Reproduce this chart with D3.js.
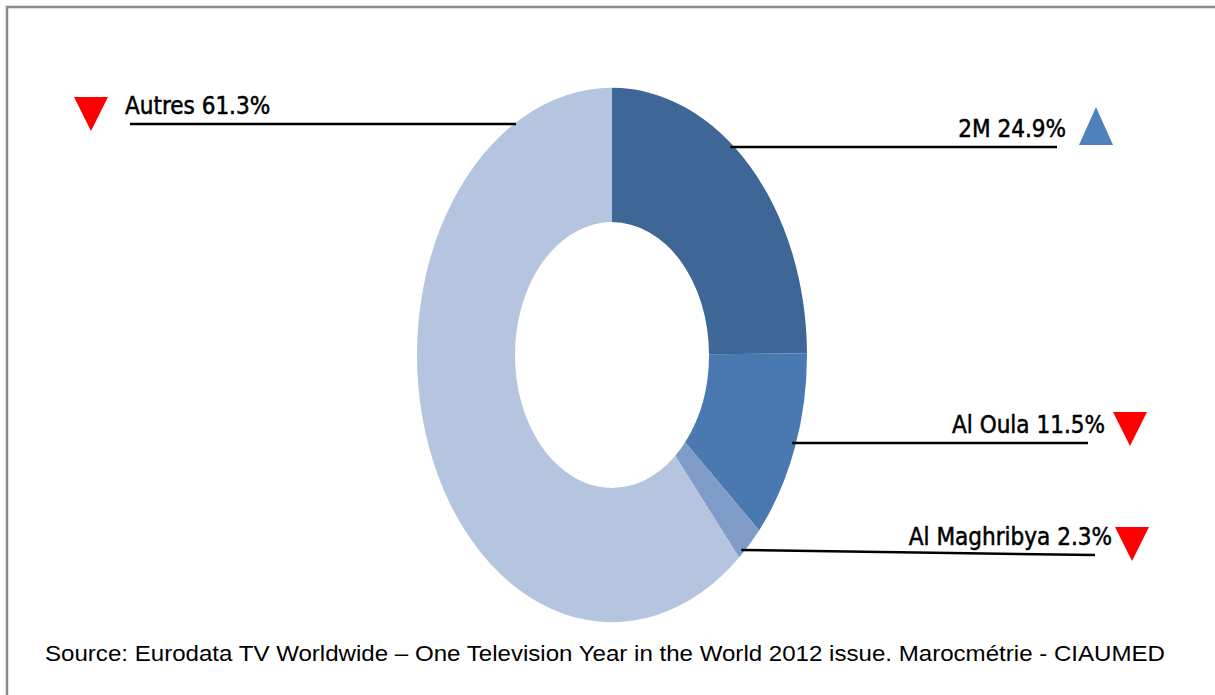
<!DOCTYPE html>
<html>
<head>
<meta charset="utf-8">
<script src="https://cdn.jsdelivr.net/npm/d3@7"></script>
<style>
  body { margin: 0; background: #fff; }
  .lbl { font-family: "Liberation Sans Narrow", "DejaVu Sans Condensed", sans-serif; font-size: 24px; fill: #000; stroke: #000; stroke-width: 0.5; }
  .src { font-family: "Liberation Sans", Arial, sans-serif; font-size: 22px; fill: #000; }
</style>
</head>
<body>
<svg width="1215" height="695"></svg>
<script>
// données
const channels = ["2M", "Al Oula", "Al Maghribya", "Autres"];
const shares   = [24.9, 11.5, 2.3, 61.3];
const trends   = ["up", "down", "down", "down"];
const colors   = ["#3e6697", "#4a79b1", "#7f9cc8", "#b5c4df"];
const source   = "Source: Eurodata TV Worldwide \u2013 One Television Year in the World 2012 issue. Marocmétrie - CIAUMED";

const svg = d3.select("svg");
const cx = 612, cy = 355;
const rOut = 195, rIn = 97, squash = 1.37; // ellipse verticale

// cadre (haut + gauche)
svg.append("rect")
  .attr("x", 7).attr("y", 7).attr("width", 1230).attr("height", 720)
  .attr("fill", "none").attr("stroke", "#8c8c8c").attr("stroke-width", 2.5);

const pie = d3.pie().sort(null).value(d => d.v);
const arcs = pie(channels.map((c, i) => ({name: c, v: shares[i], i: i})));
const arc = d3.arc().innerRadius(rIn).outerRadius(rOut);

svg.append("g")
  .attr("transform", `translate(${cx},${cy}) scale(1,${squash})`)
  .selectAll("path")
  .data(arcs)
  .enter()
  .append("path")
  .attr("d", arc)
  .attr("fill", d => colors[d.data.i]);

// position des étiquettes
const labelLayout = [
  {y: 147, lineEnd: 1057, side: "right", textEnd: 1066, tri: 1096, triY: 107},
  {y: 443, lineEnd: 1088, side: "right", textEnd: 1105, tri: 1130, triY: 412},
  {y: 550, y2: 555, lineEnd: 1095, side: "right", textEnd: 1112, tri: 1132, triY: 527},
  {y: 124, lineEnd: 130, side: "left", textStart: 125, tri: 91, triY: 97}
];

// point du bord extérieur de l'ellipse à la hauteur y
function edgeX(y, side) {
  const k = (y - cy) / (rOut * squash);
  const dx = rOut * Math.sqrt(Math.max(0, 1 - k * k));
  return side === "right" ? cx + dx - 4 : cx - dx + 2;
}

const labels = svg.append("g");
labelLayout.forEach((L, i) => {
  const y2 = L.y2 || L.y;
  labels.append("line")
    .attr("x1", edgeX(L.y, L.side)).attr("y1", L.y)
    .attr("x2", L.lineEnd).attr("y2", y2)
    .attr("stroke", "#000").attr("stroke-width", 2.5);

  const t = labels.append("text")
    .attr("class", "lbl")
    .attr("y", y2 - 10)
    .text(channels[i] + " " + d3.format(".1f")(shares[i]) + "%");
  if (L.side === "right") t.attr("x", L.textEnd).attr("text-anchor", "end");
  else t.attr("x", L.textStart);

  const s = 17, h = 34;
  const pts = trends[i] === "up"
    ? [[L.tri - s, L.triY + 38], [L.tri + s, L.triY + 38], [L.tri, L.triY]]
    : [[L.tri - s, L.triY], [L.tri + s, L.triY], [L.tri, L.triY + h]];
  labels.append("path")
    .attr("d", d3.line()(pts) + "Z")
    .attr("fill", trends[i] === "up" ? "#4f81bd" : "#ff0000");
});

svg.append("text")
  .attr("class", "src")
  .attr("x", 45).attr("y", 661)
  .attr("textLength", 1120).attr("lengthAdjust", "spacingAndGlyphs")
  .text(source);
</script>
</body>
</html>
